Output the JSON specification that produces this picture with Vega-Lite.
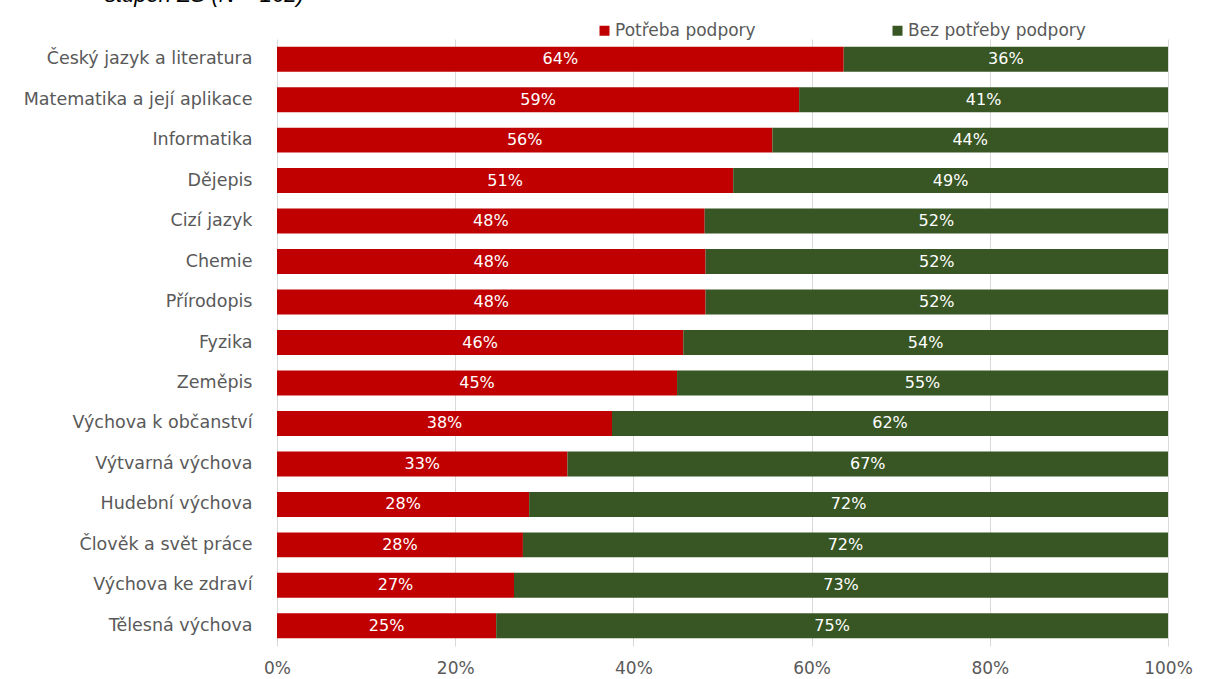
{
  "$schema": "https://vega.github.io/schema/vega-lite/v6.json",
  "autosize": "none",
  "padding": {"left": 277, "top": 39, "right": 37, "bottom": 33},
  "width": 891,
  "height": 607,
  "background": "white",
  "title": {
    "text": "stupeň ZŠ (N = 162)",
    "anchor": "start",
    "frame": "group",
    "orient": "top",
    "baseline": "bottom",
    "offset": -7,
    "dx": -172,
    "font": "Liberation Sans",
    "fontStyle": "italic",
    "fontWeight": "normal",
    "fontSize": 22,
    "color": "#000000"
  },
  "data": {
    "values": [
      {"predmet": "Český jazyk a literatura", "skupina": "Potřeba podpory", "hodnota": 0.636},
      {"predmet": "Český jazyk a literatura", "skupina": "Bez potřeby podpory", "hodnota": 0.364},
      {"predmet": "Matematika a její aplikace", "skupina": "Potřeba podpory", "hodnota": 0.586},
      {"predmet": "Matematika a její aplikace", "skupina": "Bez potřeby podpory", "hodnota": 0.414},
      {"predmet": "Informatika", "skupina": "Potřeba podpory", "hodnota": 0.556},
      {"predmet": "Informatika", "skupina": "Bez potřeby podpory", "hodnota": 0.444},
      {"predmet": "Dějepis", "skupina": "Potřeba podpory", "hodnota": 0.512},
      {"predmet": "Dějepis", "skupina": "Bez potřeby podpory", "hodnota": 0.488},
      {"predmet": "Cizí jazyk", "skupina": "Potřeba podpory", "hodnota": 0.480},
      {"predmet": "Cizí jazyk", "skupina": "Bez potřeby podpory", "hodnota": 0.520},
      {"predmet": "Chemie", "skupina": "Potřeba podpory", "hodnota": 0.481},
      {"predmet": "Chemie", "skupina": "Bez potřeby podpory", "hodnota": 0.519},
      {"predmet": "Přírodopis", "skupina": "Potřeba podpory", "hodnota": 0.481},
      {"predmet": "Přírodopis", "skupina": "Bez potřeby podpory", "hodnota": 0.519},
      {"predmet": "Fyzika", "skupina": "Potřeba podpory", "hodnota": 0.456},
      {"predmet": "Fyzika", "skupina": "Bez potřeby podpory", "hodnota": 0.544},
      {"predmet": "Zeměpis", "skupina": "Potřeba podpory", "hodnota": 0.449},
      {"predmet": "Zeměpis", "skupina": "Bez potřeby podpory", "hodnota": 0.551},
      {"predmet": "Výchova k občanství", "skupina": "Potřeba podpory", "hodnota": 0.376},
      {"predmet": "Výchova k občanství", "skupina": "Bez potřeby podpory", "hodnota": 0.624},
      {"predmet": "Výtvarná výchova", "skupina": "Potřeba podpory", "hodnota": 0.326},
      {"predmet": "Výtvarná výchova", "skupina": "Bez potřeby podpory", "hodnota": 0.674},
      {"predmet": "Hudební výchova", "skupina": "Potřeba podpory", "hodnota": 0.283},
      {"predmet": "Hudební výchova", "skupina": "Bez potřeby podpory", "hodnota": 0.717},
      {"predmet": "Člověk a svět práce", "skupina": "Potřeba podpory", "hodnota": 0.276},
      {"predmet": "Člověk a svět práce", "skupina": "Bez potřeby podpory", "hodnota": 0.724},
      {"predmet": "Výchova ke zdraví", "skupina": "Potřeba podpory", "hodnota": 0.266},
      {"predmet": "Výchova ke zdraví", "skupina": "Bez potřeby podpory", "hodnota": 0.734},
      {"predmet": "Tělesná výchova", "skupina": "Potřeba podpory", "hodnota": 0.246},
      {"predmet": "Tělesná výchova", "skupina": "Bez potřeby podpory", "hodnota": 0.754}
    ]
  },
  "encoding": {
    "y": {
      "field": "predmet",
      "type": "nominal",
      "sort": null,
      "title": null,
      "scale": {"paddingInner": 0.383, "paddingOuter": 0.19},
      "axis": {
        "ticks": false,
        "domain": false,
        "labelPadding": 25,
        "labelFont": "DejaVu Sans",
        "labelFontSize": 17.5,
        "labelColor": "#595959",
        "labelLimit": 300
      }
    },
    "order": {"field": "skupina", "sort": "descending"}
  },
  "layer": [
    {
      "mark": {"type": "bar", "strokeWidth": 0},
      "encoding": {
        "x": {
          "field": "hodnota",
          "type": "quantitative",
          "stack": "zero",
          "title": null,
          "scale": {"domain": [0, 1], "nice": false},
          "axis": {
            "values": [0, 0.2, 0.4, 0.6, 0.8, 1],
            "format": ".0%",
            "grid": true,
            "gridColor": "#d9d9d9",
            "gridWidth": 1,
            "domain": false,
            "ticks": false,
            "labelPadding": 14,
            "labelFont": "DejaVu Sans",
            "labelFontSize": 17,
            "labelColor": "#595959",
            "labelFlush": false
          }
        },
        "color": {
          "field": "skupina",
          "type": "nominal",
          "scale": {"domain": ["Potřeba podpory", "Bez potřeby podpory"], "range": ["#C00000", "#375623"]},
          "legend": {
            "title": null,
            "orient": "none",
            "direction": "horizontal",
            "legendX": 319,
            "legendY": -17,
            "symbolType": "square",
            "symbolSize": 100,
            "symbolStrokeWidth": 0,
            "symbolOpacity": 1,
            "labelFont": "DejaVu Sans",
            "labelFontSize": 17,
            "labelColor": "#595959",
            "labelOffset": 2,
            "columnPadding": 133,
            "padding": 0,
            "labelLimit": 300
          }
        }
      }
    },
    {
      "mark": {"type": "text", "color": "white", "font": "DejaVu Sans", "fontSize": 16, "baseline": "middle", "align": "center"},
      "encoding": {
        "x": {"field": "hodnota", "type": "quantitative", "stack": "zero", "bandPosition": 0.5},
        "text": {"field": "hodnota", "type": "quantitative", "format": ".0%"}
      }
    }
  ],
  "config": {
    "view": {"stroke": null}
  }
}
